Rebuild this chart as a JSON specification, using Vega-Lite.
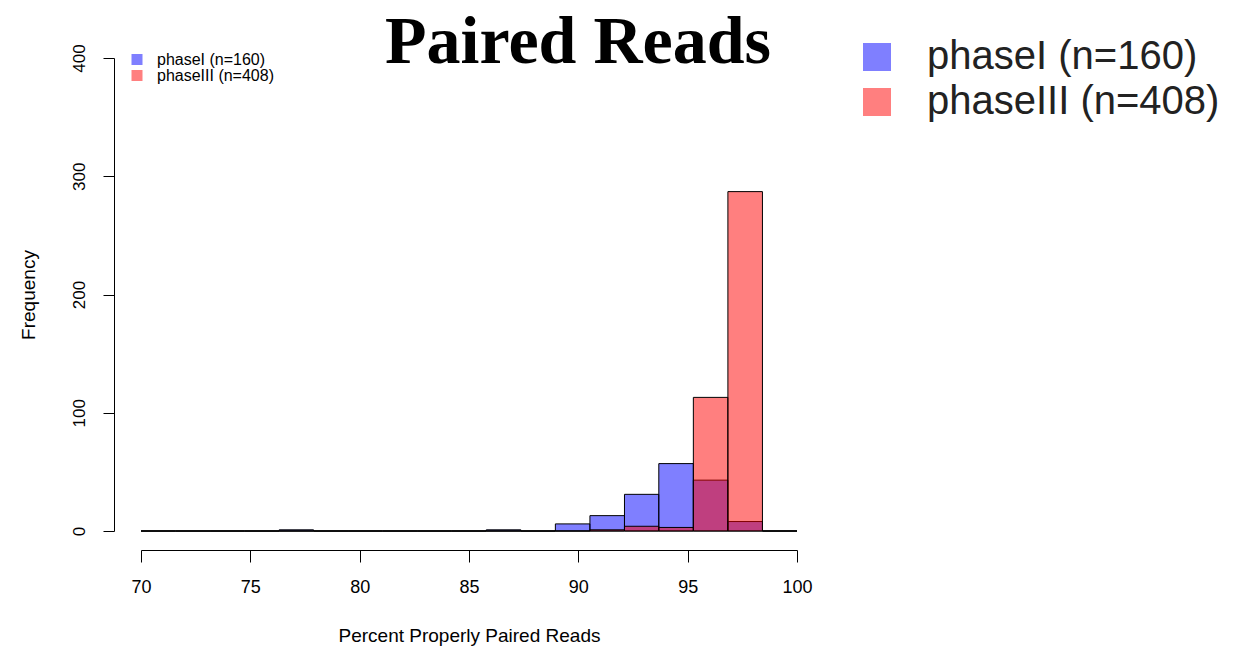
{
  "$schema": "https://vega.github.io/schema/vega-lite/v6.json",
  "width": 656,
  "height": 473,
  "autosize": {"type": "none"},
  "padding": {"left": 141, "right": 436, "top": 58, "bottom": 117},
  "background": "white",
  "config": {
    "view": {"stroke": null},
    "font": "Liberation Sans"
  },
  "title": {
    "text": "Paired Reads",
    "font": "Liberation Serif",
    "fontWeight": "bold",
    "fontSize": 68,
    "color": "black",
    "anchor": "middle",
    "frame": "group",
    "baseline": "alphabetic",
    "offset": 0,
    "dx": 109,
    "dy": 94
  },
  "data": {
    "values": [
      {"series": "phaseI (n=160)", "x0": 70, "x1": 71.58, "count": 0},
      {"series": "phaseI (n=160)", "x0": 71.58, "x1": 73.16, "count": 0},
      {"series": "phaseI (n=160)", "x0": 73.16, "x1": 74.74, "count": 0},
      {"series": "phaseI (n=160)", "x0": 74.74, "x1": 76.32, "count": 0},
      {"series": "phaseI (n=160)", "x0": 76.32, "x1": 77.89, "count": 1},
      {"series": "phaseI (n=160)", "x0": 77.89, "x1": 79.47, "count": 0},
      {"series": "phaseI (n=160)", "x0": 79.47, "x1": 81.05, "count": 0},
      {"series": "phaseI (n=160)", "x0": 81.05, "x1": 82.63, "count": 0},
      {"series": "phaseI (n=160)", "x0": 82.63, "x1": 84.21, "count": 0},
      {"series": "phaseI (n=160)", "x0": 84.21, "x1": 85.79, "count": 0},
      {"series": "phaseI (n=160)", "x0": 85.79, "x1": 87.37, "count": 1},
      {"series": "phaseI (n=160)", "x0": 87.37, "x1": 88.95, "count": 0},
      {"series": "phaseI (n=160)", "x0": 88.95, "x1": 90.53, "count": 6},
      {"series": "phaseI (n=160)", "x0": 90.53, "x1": 92.11, "count": 13},
      {"series": "phaseI (n=160)", "x0": 92.11, "x1": 93.68, "count": 31},
      {"series": "phaseI (n=160)", "x0": 93.68, "x1": 95.26, "count": 57},
      {"series": "phaseI (n=160)", "x0": 95.26, "x1": 96.84, "count": 43},
      {"series": "phaseI (n=160)", "x0": 96.84, "x1": 98.42, "count": 8},
      {"series": "phaseI (n=160)", "x0": 98.42, "x1": 100, "count": 0},
      {"series": "phaseIII (n=408)", "x0": 70, "x1": 71.58, "count": 0},
      {"series": "phaseIII (n=408)", "x0": 71.58, "x1": 73.16, "count": 0},
      {"series": "phaseIII (n=408)", "x0": 73.16, "x1": 74.74, "count": 0},
      {"series": "phaseIII (n=408)", "x0": 74.74, "x1": 76.32, "count": 0},
      {"series": "phaseIII (n=408)", "x0": 76.32, "x1": 77.89, "count": 0},
      {"series": "phaseIII (n=408)", "x0": 77.89, "x1": 79.47, "count": 0},
      {"series": "phaseIII (n=408)", "x0": 79.47, "x1": 81.05, "count": 0},
      {"series": "phaseIII (n=408)", "x0": 81.05, "x1": 82.63, "count": 0},
      {"series": "phaseIII (n=408)", "x0": 82.63, "x1": 84.21, "count": 0},
      {"series": "phaseIII (n=408)", "x0": 84.21, "x1": 85.79, "count": 0},
      {"series": "phaseIII (n=408)", "x0": 85.79, "x1": 87.37, "count": 0},
      {"series": "phaseIII (n=408)", "x0": 87.37, "x1": 88.95, "count": 0},
      {"series": "phaseIII (n=408)", "x0": 88.95, "x1": 90.53, "count": 0},
      {"series": "phaseIII (n=408)", "x0": 90.53, "x1": 92.11, "count": 1},
      {"series": "phaseIII (n=408)", "x0": 92.11, "x1": 93.68, "count": 4},
      {"series": "phaseIII (n=408)", "x0": 93.68, "x1": 95.26, "count": 3},
      {"series": "phaseIII (n=408)", "x0": 95.26, "x1": 96.84, "count": 113},
      {"series": "phaseIII (n=408)", "x0": 96.84, "x1": 98.42, "count": 287},
      {"series": "phaseIII (n=408)", "x0": 98.42, "x1": 100, "count": 0}
    ]
  },
  "encoding": {
    "x": {
      "field": "x0",
      "type": "quantitative",
      "scale": {"domain": [70, 100], "nice": false, "zero": false},
      "axis": {
        "title": "Percent Properly Paired Reads",
        "values": [70, 75, 80, 85, 90, 95, 100],
        "grid": false,
        "offset": 19,
        "tickSize": 12,
        "tickColor": "black",
        "domainColor": "black",
        "labelColor": "black",
        "titleColor": "black",
        "labelFontSize": 18,
        "titleFontSize": 19,
        "titleFontWeight": "normal",
        "labelPadding": 16,
        "titlePadding": 30,
        "labelFlush": false
      }
    },
    "x2": {"field": "x1"},
    "y": {
      "field": "count",
      "type": "quantitative",
      "scale": {"domain": [0, 400], "nice": false},
      "axis": {
        "title": "Frequency",
        "values": [0, 100, 200, 300, 400],
        "grid": false,
        "offset": 27,
        "tickSize": 11,
        "tickColor": "black",
        "domainColor": "black",
        "labelColor": "black",
        "titleColor": "black",
        "labelFontSize": 17,
        "titleFontSize": 19,
        "titleFontWeight": "normal",
        "labelAngle": 270,
        "labelAlign": "center",
        "labelBaseline": "alphabetic",
        "labelPadding": 19,
        "titlePadding": 32,
        "labelFlush": false
      }
    },
    "y2": {"datum": 0}
  },
  "layer": [
    {
      "mark": {"type": "rect", "fillOpacity": 0.5, "stroke": "black", "strokeWidth": 1},
      "encoding": {
        "fill": {
          "field": "series",
          "type": "nominal",
          "scale": {"domain": ["phaseI (n=160)", "phaseIII (n=408)"], "range": ["#0000ff", "#ff0000"]},
          "legend": {
            "title": null,
            "orient": "none",
            "legendX": -12,
            "legendY": -6.5,
            "padding": 0,
            "symbolType": "square",
            "symbolSize": 121,
            "symbolOpacity": 0.5,
            "symbolStrokeWidth": 0,
            "labelFontSize": 16,
            "labelFont": "Liberation Sans",
            "labelColor": "black",
            "labelOffset": 12,
            "rowPadding": 0,
            "labelLimit": 400
          }
        }
      }
    },
    {
      "mark": {"type": "rect", "opacity": 0},
      "encoding": {
        "fill": {
          "field": "series",
          "type": "nominal",
          "scale": {"domain": ["phaseI (n=160)", "phaseIII (n=408)"], "range": ["#0000ff", "#ff0000"]},
          "legend": {
            "title": null,
            "orient": "none",
            "legendX": 716,
            "legendY": -21,
            "padding": 0,
            "symbolType": "square",
            "symbolSize": 784,
            "symbolOpacity": 0.5,
            "symbolStrokeWidth": 0,
            "labelFontSize": 40,
            "labelFont": "Liberation Sans",
            "labelColor": "#222222",
            "labelOffset": 30,
            "rowPadding": 5,
            "labelLimit": 600
          }
        }
      }
    }
  ],
  "resolve": {"scale": {"fill": "independent"}, "legend": {"fill": "independent"}}
}
